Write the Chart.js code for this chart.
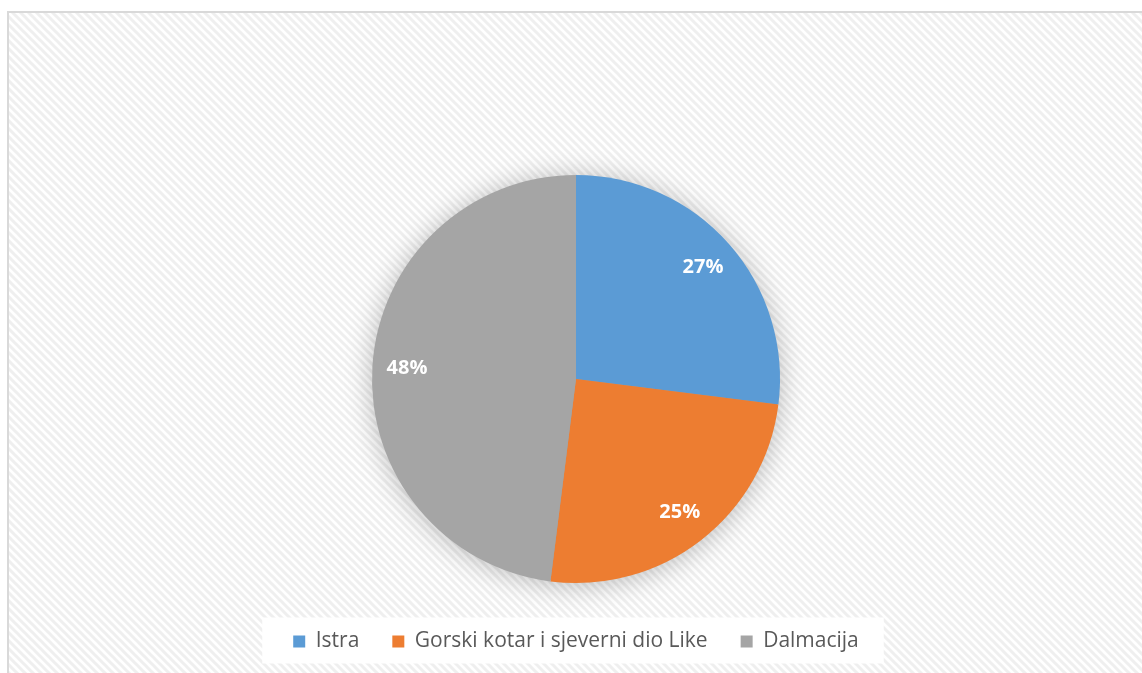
<!DOCTYPE html>
<html lang="hr">
<head>
  <meta charset="UTF-8" />
  <title>Pie - regije</title>
  <style>
    body { margin: 0; background: #fff; }
    canvas#pieChart { display: block; }
  </style>
</head>
<body>
  <canvas id="pieChart" width="1142" height="673"></canvas>

  <script src="https://cdn.jsdelivr.net/npm/chart.js"></script>
  <script>
    // podaci
    const regije = ['Istra', 'Gorski kotar i sjeverni dio Like', 'Dalmacija'];
    const udjeli = [27, 25, 48];
    const boje = ['#5B9BD5', '#ED7D31', '#A5A5A5'];

    // uzorak pozadine (dijagonalne linije)
    function makePattern() {
      const p = document.createElement('canvas');
      p.width = 8; p.height = 8;
      const c = p.getContext('2d');
      c.fillStyle = '#ffffff';
      c.fillRect(0, 0, 8, 8);
      c.strokeStyle = '#efefef';
      c.lineWidth = 3;
      c.beginPath();
      c.moveTo(-2, -2); c.lineTo(10, 10);
      c.moveTo(-10, -2); c.lineTo(2, 10);
      c.moveTo(6, -2); c.lineTo(18, 10);
      c.stroke();
      return c.createPattern(p, 'repeat');
    }

    const pozadina = {
      id: 'pozadina',
      beforeDraw(chart) {
        const ctx = chart.ctx;
        ctx.save();
        ctx.fillStyle = '#fff';
        ctx.fillRect(0, 0, chart.width, chart.height);
        ctx.fillStyle = makePattern();
        ctx.fillRect(8, 12, chart.width, chart.height);
        ctx.strokeStyle = '#d9d9d9';
        ctx.lineWidth = 2;
        ctx.strokeRect(8, 12, chart.width + 20, chart.height + 20);

        // bijela podloga legende
        const boxes = chart.legend.legendHitBoxes;
        if (boxes && boxes.length) {
          const first = boxes[0], last = boxes[boxes.length - 1];
          const cy = first.top + first.height / 2;
          ctx.fillStyle = 'rgba(255,255,255,0.96)';
          ctx.fillRect(first.left - 31, cy - 24, last.left + last.width - first.left + 56, 46);
        }
        ctx.restore();
      },
      beforeDatasetsDraw(chart) {
        // sjena oko pite
        const arc = chart.getDatasetMeta(0).data[0];
        if (!arc) return;
        const ctx = chart.ctx;
        ctx.save();
        ctx.shadowColor = 'rgba(0,0,0,0.28)';
        ctx.shadowBlur = 28;
        ctx.shadowOffsetY = 2;
        ctx.fillStyle = '#a0a0a0';
        ctx.beginPath();
        ctx.arc(arc.x, arc.y, arc.outerRadius - 1, 0, 2 * Math.PI);
        ctx.fill();
        ctx.restore();
      }
    };

    const postoci = {
      id: 'postoci',
      afterDatasetsDraw(chart) {
        const ctx = chart.ctx;
        const data = chart.data.datasets[0].data;
        const total = data.reduce((a, b) => a + b, 0);
        ctx.save();
        ctx.font = 'bold 20px "Open Sans"';
        ctx.fillStyle = '#ffffff';
        ctx.textAlign = 'center';
        ctx.textBaseline = 'middle';
        chart.getDatasetMeta(0).data.forEach((arc, i) => {
          const mid = (arc.startAngle + arc.endAngle) / 2;
          const r = arc.outerRadius * 0.83;
          const x = arc.x + Math.cos(mid) * r;
          const y = arc.y + Math.sin(mid) * r;
          ctx.fillText(Math.round(data[i] / total * 100) + '%', x, y);
        });
        ctx.restore();
      }
    };

    new Chart(document.getElementById('pieChart'), {
      type: 'pie',
      data: {
        labels: regije,
        datasets: [{
          data: udjeli,
          backgroundColor: boje,
          borderWidth: 0,
          radius: 204
        }]
      },
      options: {
        responsive: false,
        animation: false,
        layout: { padding: { top: 160, bottom: 11, left: 10, right: 0 } },
        plugins: {
          legend: {
            position: 'bottom',
            labels: {
              boxWidth: 12,
              boxHeight: 12,
              padding: 33,
              color: '#595959',
              font: { family: '"Open Sans"', size: 21 }
            }
          },
          tooltip: { enabled: false }
        }
      },
      plugins: [pozadina, postoci]
    });
  </script>
</body>
</html>
